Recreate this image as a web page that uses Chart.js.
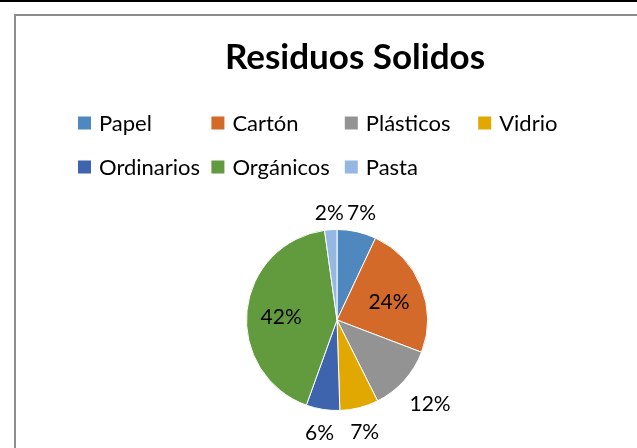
<!DOCTYPE html>
<html>
<head>
<meta charset="utf-8">
<script src="https://cdn.jsdelivr.net/npm/chart.js@4"></script>
<style>
html,body{margin:0;padding:0;background:#fff;}
#wrap{position:relative;width:637px;height:448px;}
</style>
</head>
<body>
<div id="wrap"><canvas id="c"></canvas></div>
<script>
const categories = ['Papel','Cartón','Plásticos','Vidrio','Ordinarios','Orgánicos','Pasta'];
const values = [7.0, 23.8, 11.8, 6.9, 6.0, 42.3, 2.2];
const colors = ['#4F88BE','#D46A2A','#939393','#E0A800','#3D64AD','#629A3E','#95B8E2'];
const titleText = 'Residuos Solidos';
const FONT = 'Lato, "Open Sans", sans-serif';

const frame = {
  id:'frame',
  beforeDraw(chart){
    const ctx = chart.ctx;
    ctx.save();
    ctx.fillStyle='#fff';
    ctx.fillRect(0,0,chart.width,chart.height);
    ctx.fillStyle='#000';
    ctx.fillRect(0,0,chart.width,2);
    ctx.strokeStyle='#8c8c8c';
    ctx.lineWidth=2;
    ctx.beginPath();
    ctx.moveTo(15,chart.height+5);
    ctx.lineTo(15,15);
    ctx.lineTo(chart.width+5,15);
    ctx.stroke();
    ctx.restore();
  }
};

const titleAndLegend = {
  id:'titleAndLegend',
  afterDraw(chart){
    const ctx = chart.ctx;
    ctx.save();
    // title
    ctx.font = 'bold 35px ' + FONT;
    ctx.fillStyle = '#000';
    ctx.textAlign = 'center';
    ctx.textBaseline = 'middle';
    ctx.fillText(titleText, 355, 58);
    // legend
    ctx.font = '22px ' + FONT;
    ctx.textAlign='left';
    chart.data.labels.forEach((lab,i)=>{
      const col = i % 4, row = Math.floor(i/4);
      const x = 78 + col*133.4;
      const y = 123 + row*44;
      ctx.fillStyle = chart.data.datasets[0].backgroundColor[i];
      ctx.fillRect(x, y-6.5, 13, 13);
      ctx.fillStyle = '#000';
      ctx.fillText(lab, x+21, y+1);
    });
    ctx.restore();
  }
};

const pctLabels = {
  id:'pctLabels',
  afterDatasetsDraw(chart){
    const ctx = chart.ctx;
    const meta = chart.getDatasetMeta(0);
    const data = chart.data.datasets[0].data;
    const total = data.reduce((a,b)=>a+b,0);
    ctx.save();
    ctx.font = '21px ' + FONT;
    ctx.fillStyle='#000';
    ctx.textAlign='center';
    ctx.textBaseline='middle';
    meta.data.forEach((arc,i)=>{
      const p = arc.getProps(['x','y','startAngle','endAngle','outerRadius'],true);
      const mid = (p.startAngle+p.endAngle)/2;
      const pct = Math.round(data[i]/total*100);
      const txt = pct + '%';
      const dx = Math.cos(mid), dy = Math.sin(mid);
      let x,y;
      if (pct >= 20){
        x = p.x + dx*p.outerRadius*0.62;
        y = p.y + dy*p.outerRadius*0.62 + 3;
      } else {
        const hw = ctx.measureText(txt).width/2, hh = 10;
        const d = p.outerRadius + 9 + Math.abs(dx)*hw + Math.abs(dy)*hh;
        x = p.x + dx*d + (dx > 0.5 ? 3 : 0);
        y = p.y + dy*d + 3;
      }
      ctx.fillText(txt, x, y);
    });
    ctx.restore();
  }
};

new Chart(document.getElementById('c'), {
  type:'pie',
  data:{
    labels: categories,
    datasets:[{
      data: values,
      backgroundColor: colors,
      borderColor:'#ffffff',
      borderWidth:1
    }]
  },
  options:{
    responsive:true,
    maintainAspectRatio:false,
    animation:false,
    rotation:0,
    layout:{padding:{left:37,right:0,top:229,bottom:37}},
    plugins:{
      legend:{display:false},
      tooltip:{enabled:false},
      title:{display:false}
    }
  },
  plugins:[frame,titleAndLegend,pctLabels]
});
</script>
</body>
</html>
